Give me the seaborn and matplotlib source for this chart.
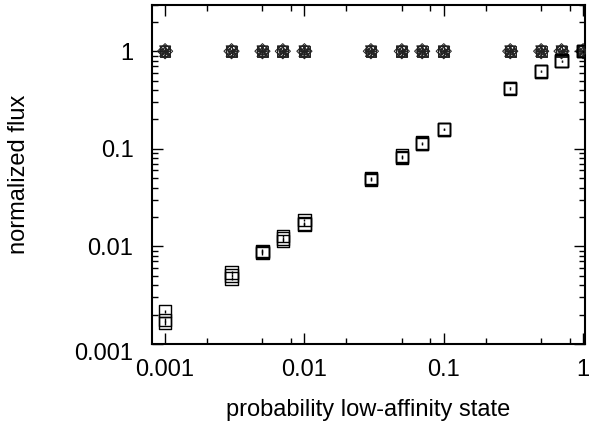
import numpy as np
import pandas as pd
import matplotlib
matplotlib.use("Agg")
import matplotlib.pyplot as plt
import matplotlib.ticker as mticker
import matplotlib.transforms as mtransforms
import seaborn as sns

sns.set_theme(style="ticks")
plt.rcParams['font.family'] = ['Liberation Sans', 'DejaVu Sans']

# probability of the low-affinity state
p_low = [0.001, 0.003, 0.005, 0.007, 0.01, 0.03, 0.05, 0.07, 0.1, 0.3, 0.5, 0.7, 1.0]

# replicate runs (squares, with small error bars)
flux_rep1 = [0.00217, 0.0054, 0.0088, 0.0128, 0.0185, 0.050, 0.085, 0.116, 0.158, 0.42, 0.62, 0.79, 1.0]
flux_rep2 = [0.00176, 0.0050, 0.0085, 0.0114, 0.0167, 0.049, 0.082, 0.113, 0.157, 0.42, 0.62, 0.80, 1.0]
flux_rep3 = [0.00163, 0.0047, 0.0090, 0.0120, 0.0172, 0.048, 0.080, 0.112, 0.160, 0.41, 0.63, 0.79, 1.0]
flux_err = [0.00008, 0.0002, 0.0003, 0.0004, 0.0005, 0.0012, 0.002, 0.002, 0.003, 0.005, 0.006, 0.008, 0.01]

# reference runs that stay at 1
flux_ref = [1.0] * len(p_low)
ref_markers = ['+', 'x', '^', 'v', 'o', 'D', '*', 's', '1', '2']

fig, ax = plt.subplots(figsize=(5.92, 4.23), dpi=100)
fig.subplots_adjust(left=0.256, right=0.989, bottom=0.187, top=0.989)

for m in ref_markers:
    ref_df = pd.DataFrame({"p": p_low, "flux": flux_ref})
    sns.scatterplot(data=ref_df, x="p", y="flux", marker=m, s=60,
                    facecolors='none' if m not in ['+', 'x', '1', '2'] else None,
                    edgecolor='#222222', color='#222222', linewidth=0.7, ax=ax, zorder=3)

for rep in [flux_rep1, flux_rep2, flux_rep3]:
    rep_df = pd.DataFrame({"p": p_low, "flux": rep})
    sns.scatterplot(data=rep_df, x="p", y="flux", marker='s', s=80,
                    facecolors='none', edgecolor='black', linewidth=1.0, ax=ax, zorder=3)
    ax.errorbar(p_low, rep, yerr=flux_err, fmt='none', ecolor='black',
                elinewidth=1.0, capsize=0, zorder=3)

ax.set_xscale('log')
ax.set_yscale('log')
ax.set_xlim(0.0008, 1.04)
ax.set_ylim(0.001, 3)

ax.xaxis.set_major_locator(mticker.FixedLocator([0.001, 0.01, 0.1, 1]))
ax.xaxis.set_minor_locator(mticker.FixedLocator([d * k for d in [0.001, 0.01, 0.1] for k in [2, 5, 8]]))
ax.xaxis.set_major_formatter(mticker.FixedFormatter(["0.001", "0.01", "0.1", "1"]))
ax.yaxis.set_major_locator(mticker.FixedLocator([0.001, 0.01, 0.1, 1]))
ax.yaxis.set_minor_locator(mticker.LogLocator(base=10, subs=np.arange(2, 10)))
ax.yaxis.set_major_formatter(mticker.FixedFormatter(["0.001", "0.01", "0.1", "1"]))
ax.yaxis.set_minor_formatter(mticker.NullFormatter())
ax.xaxis.set_minor_formatter(mticker.NullFormatter())

ax.tick_params(which='both', direction='in', top=True, right=True, colors='black',
               labelsize=17, width=1.0)
ax.tick_params(which='major', length=8)
ax.tick_params(axis='x', which='major', pad=11)
ax.tick_params(axis='y', which='major', pad=13)
ax.tick_params(which='minor', length=4.5)
for sp in ax.spines.values():
    sp.set_linewidth(1.5)
    sp.set_color('black')

ax.set_xlabel("probability low-affinity state", fontsize=17, color='black')
ax.set_ylabel("normalized flux", fontsize=17, color='black')
ax.xaxis.set_label_coords(0.5, -0.163)
ax.yaxis.set_label_coords(-0.28, 0.5)

# the bottom y label sits a little lower in the original
fig.canvas.draw()
lab = ax.get_yticklabels()[0]
lab.set_transform(lab.get_transform() + mtransforms.ScaledTranslation(0, -8 / 100, fig.dpi_scale_trans))

plt.savefig("out.png", dpi=100)
